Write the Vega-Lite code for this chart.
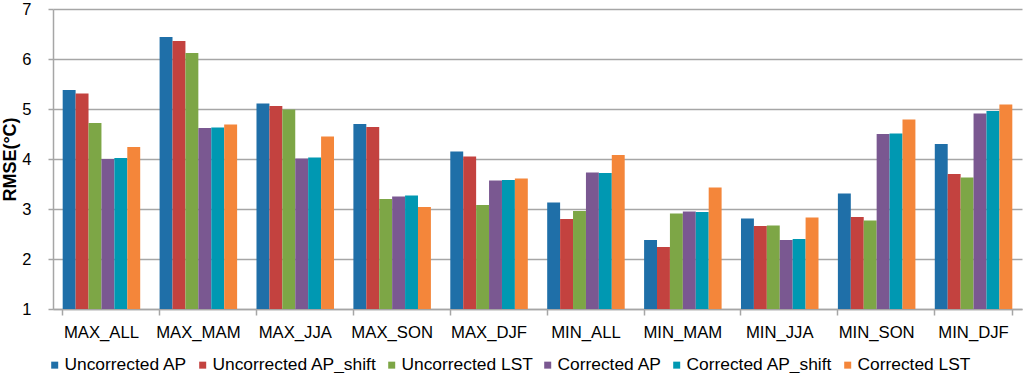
{
  "$schema": "https://vega.github.io/schema/vega-lite/v6.json",
  "width": 969,
  "height": 300,
  "autosize": {"type": "none"},
  "padding": {"left": 53, "top": 9, "right": 2, "bottom": 64},
  "background": "white",
  "config": {
    "view": {"stroke": null},
    "font": "Liberation Sans",
    "axis": {"labelFont": "Liberation Sans", "titleFont": "Liberation Sans", "labelColor": "#000000", "titleColor": "#000000"},
    "legend": {"labelFont": "Liberation Sans"}
  },
  "data": {
    "values": [
      {"cat": "MAX_ALL", "series": "Uncorrected AP", "v": 5.38},
      {"cat": "MAX_ALL", "series": "Uncorrected AP_shift", "v": 5.31},
      {"cat": "MAX_ALL", "series": "Uncorrected LST", "v": 4.72},
      {"cat": "MAX_ALL", "series": "Corrected AP", "v": 4.00},
      {"cat": "MAX_ALL", "series": "Corrected AP_shift", "v": 4.02},
      {"cat": "MAX_ALL", "series": "Corrected LST", "v": 4.24},
      {"cat": "MAX_MAM", "series": "Uncorrected AP", "v": 6.44},
      {"cat": "MAX_MAM", "series": "Uncorrected AP_shift", "v": 6.36},
      {"cat": "MAX_MAM", "series": "Uncorrected LST", "v": 6.12},
      {"cat": "MAX_MAM", "series": "Corrected AP", "v": 4.62},
      {"cat": "MAX_MAM", "series": "Corrected AP_shift", "v": 4.63},
      {"cat": "MAX_MAM", "series": "Corrected LST", "v": 4.69},
      {"cat": "MAX_JJA", "series": "Uncorrected AP", "v": 5.11},
      {"cat": "MAX_JJA", "series": "Uncorrected AP_shift", "v": 5.06},
      {"cat": "MAX_JJA", "series": "Uncorrected LST", "v": 4.99},
      {"cat": "MAX_JJA", "series": "Corrected AP", "v": 4.01},
      {"cat": "MAX_JJA", "series": "Corrected AP_shift", "v": 4.03},
      {"cat": "MAX_JJA", "series": "Corrected LST", "v": 4.45},
      {"cat": "MAX_SON", "series": "Uncorrected AP", "v": 4.70},
      {"cat": "MAX_SON", "series": "Uncorrected AP_shift", "v": 4.64},
      {"cat": "MAX_SON", "series": "Uncorrected LST", "v": 3.20},
      {"cat": "MAX_SON", "series": "Corrected AP", "v": 3.25},
      {"cat": "MAX_SON", "series": "Corrected AP_shift", "v": 3.27},
      {"cat": "MAX_SON", "series": "Corrected LST", "v": 3.04},
      {"cat": "MAX_DJF", "series": "Uncorrected AP", "v": 4.15},
      {"cat": "MAX_DJF", "series": "Uncorrected AP_shift", "v": 4.05},
      {"cat": "MAX_DJF", "series": "Uncorrected LST", "v": 3.08},
      {"cat": "MAX_DJF", "series": "Corrected AP", "v": 3.57},
      {"cat": "MAX_DJF", "series": "Corrected AP_shift", "v": 3.58},
      {"cat": "MAX_DJF", "series": "Corrected LST", "v": 3.61},
      {"cat": "MIN_ALL", "series": "Uncorrected AP", "v": 3.13},
      {"cat": "MIN_ALL", "series": "Uncorrected AP_shift", "v": 2.80},
      {"cat": "MIN_ALL", "series": "Uncorrected LST", "v": 2.96},
      {"cat": "MIN_ALL", "series": "Corrected AP", "v": 3.73},
      {"cat": "MIN_ALL", "series": "Corrected AP_shift", "v": 3.72},
      {"cat": "MIN_ALL", "series": "Corrected LST", "v": 4.08},
      {"cat": "MIN_MAM", "series": "Uncorrected AP", "v": 2.38},
      {"cat": "MIN_MAM", "series": "Uncorrected AP_shift", "v": 2.24},
      {"cat": "MIN_MAM", "series": "Uncorrected LST", "v": 2.91},
      {"cat": "MIN_MAM", "series": "Corrected AP", "v": 2.95},
      {"cat": "MIN_MAM", "series": "Corrected AP_shift", "v": 2.94},
      {"cat": "MIN_MAM", "series": "Corrected LST", "v": 3.43},
      {"cat": "MIN_JJA", "series": "Uncorrected AP", "v": 2.81},
      {"cat": "MIN_JJA", "series": "Uncorrected AP_shift", "v": 2.66},
      {"cat": "MIN_JJA", "series": "Uncorrected LST", "v": 2.67},
      {"cat": "MIN_JJA", "series": "Corrected AP", "v": 2.38},
      {"cat": "MIN_JJA", "series": "Corrected AP_shift", "v": 2.40},
      {"cat": "MIN_JJA", "series": "Corrected LST", "v": 2.83},
      {"cat": "MIN_SON", "series": "Uncorrected AP", "v": 3.31},
      {"cat": "MIN_SON", "series": "Uncorrected AP_shift", "v": 2.84},
      {"cat": "MIN_SON", "series": "Uncorrected LST", "v": 2.77},
      {"cat": "MIN_SON", "series": "Corrected AP", "v": 4.50},
      {"cat": "MIN_SON", "series": "Corrected AP_shift", "v": 4.51},
      {"cat": "MIN_SON", "series": "Corrected LST", "v": 4.79},
      {"cat": "MIN_DJF", "series": "Uncorrected AP", "v": 4.30},
      {"cat": "MIN_DJF", "series": "Uncorrected AP_shift", "v": 3.70},
      {"cat": "MIN_DJF", "series": "Uncorrected LST", "v": 3.63},
      {"cat": "MIN_DJF", "series": "Corrected AP", "v": 4.91},
      {"cat": "MIN_DJF", "series": "Corrected AP_shift", "v": 4.96},
      {"cat": "MIN_DJF", "series": "Corrected LST", "v": 5.09}
    ]
  },
  "resolve": {"axis": {"x": "independent"}},
  "layer": [
    {
      "mark": {"type": "bar"},
      "encoding": {
        "x": {
          "field": "cat", "type": "nominal", "sort": null,
          "scale": {"paddingInner": 0.2, "paddingOuter": 0.1},
          "axis": {"orient": "bottom", "title": null, "labelAngle": 0, "ticks": false, "domain": false, "labelFontSize": 16.7, "labelPadding": 15}
        },
        "xOffset": {
          "field": "series", "type": "nominal",
          "scale": {"domain": ["Uncorrected AP", "Uncorrected AP_shift", "Uncorrected LST", "Corrected AP", "Corrected AP_shift", "Corrected LST"], "paddingInner": 0, "paddingOuter": 0}
        },
        "y": {
          "field": "v", "type": "quantitative",
          "scale": {"domain": [1, 7], "zero": false, "nice": false},
          "axis": {"values": [1, 2, 3, 4, 5, 6, 7], "grid": true, "gridColor": "#a6a6a6", "gridWidth": 1.5, "domain": true, "domainColor": "#a6a6a6", "domainWidth": 1.5, "ticks": true, "tickColor": "#a6a6a6", "tickSize": 5, "tickWidth": 1.5, "labelFontSize": 16.5, "labelPadding": 17, "title": "RMSE(°C)", "titleFontSize": 18, "titleFontWeight": "bold", "titlePadding": 2}
        },
        "y2": {"datum": 1},
        "color": {
          "field": "series", "type": "nominal",
          "scale": {"domain": ["Uncorrected AP", "Uncorrected AP_shift", "Uncorrected LST", "Corrected AP", "Corrected AP_shift", "Corrected LST"], "range": ["#1f6fa8", "#c3423f", "#7da646", "#7a5891", "#0098b2", "#f4863a"]},
          "legend": {"orient": "none", "legendX": -7, "legendY": 347, "direction": "horizontal", "columns": 6, "title": null, "symbolType": "square", "symbolSize": 49, "symbolStrokeWidth": 0, "labelFontSize": 17.4, "labelOffset": 1, "columnPadding": 6, "labelLimit": 400, "labelColor": "#000000"}
        }
      }
    },
    {
      "mark": {"type": "rule", "opacity": 0},
      "encoding": {
        "x": {
          "field": "cat", "type": "nominal", "sort": null,
          "axis": {"orient": "bottom", "title": null, "labels": false, "bandPosition": 0, "ticks": true, "tickSize": 6, "tickColor": "#a6a6a6", "tickWidth": 1.5, "domain": true, "domainColor": "#a6a6a6", "domainWidth": 1.5, "grid": false}
        }
      }
    },
    {
      "mark": {"type": "rule", "opacity": 0},
      "encoding": {
        "x": {
          "field": "cat", "type": "nominal", "sort": null,
          "axis": {"orient": "bottom", "title": null, "labels": false, "values": ["MIN_DJF"], "bandPosition": 1, "ticks": true, "tickSize": 6, "tickColor": "#a6a6a6", "tickWidth": 1.5, "domain": false, "grid": false}
        }
      }
    }
  ]
}
